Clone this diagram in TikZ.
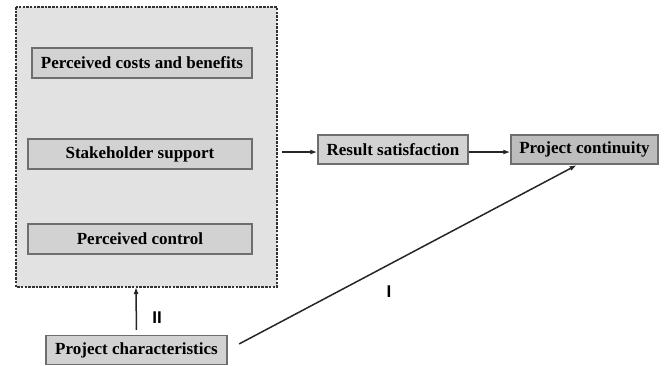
\documentclass[tikz,border=0pt]{standalone}
\usepackage{fontspec}
\setmainfont{Liberation Serif}
\newfontfamily\labelfont{Liberation Sans}
\usepackage{xcolor}
\usepackage{tikz}
\usetikzlibrary{arrows.meta,calc}

\definecolor{grpfill}{HTML}{E2E2E2}
\definecolor{boxfill}{HTML}{D2D2D2}
\definecolor{boxdraw}{HTML}{6E6E6E}

\begin{document}
\begin{tikzpicture}[x=1pt,y=-1pt,
		kasten/.style={draw=boxdraw,fill=boxfill,line width=1.4pt,inner sep=0pt,
			minimum height=30pt,font=\fontsize{17}{19}\selectfont\bfseries},
		pfeil/.style={-{Latex[length=7pt,width=5pt]},line width=1.5pt,black!85}]
		\useasboundingbox (0,0) rectangle (664,365);

		% Gruppe
		\draw[black!80,dash pattern=on 2.5pt off 1.2pt,line width=1.3pt,fill=grpfill]
			(16,7) rectangle (277,287);
		\coordinate (grpeast) at (282,152);
		\coordinate (grpsouth) at (136,287);

		% Kaesten
		\node[kasten,minimum width=220pt] (costs) at (142,63) {Perceived costs and benefits};
		\node[kasten,minimum width=224pt] (support) at (140,154) {Stakeholder support};
		\node[kasten,minimum width=224pt] (control) at (140,239) {Perceived control};
		\node[kasten,minimum width=181pt,minimum height=29pt] (chars) at (136.5,350) {Project characteristics};
		\node[kasten,minimum width=150pt,minimum height=29pt] (result) at (393,149.5) {Result satisfaction};
		\node[kasten,minimum width=147pt,minimum height=29pt,fill=boxfill!90!black] (cont) at (584.5,149.5) {Project continuity};

		% Pfeile
		\draw[pfeil] (grpeast) -- (grpeast -| result.west);
		\draw[pfeil] (result.east |- grpeast) -- (cont.west |- grpeast);
		\draw[pfeil,shorten <=5pt] (chars.north) -- (grpsouth);
		\draw[pfeil,shorten <=13pt,shorten >=1pt] (chars.east) -- ($(cont.south)+(-7,0)$);

		% Beschriftung
		\node[font=\labelfont\bfseries\fontsize{17}{19}\selectfont] (two) at (157,318) {II};
		\node[font=\labelfont\bfseries\fontsize{17}{19}\selectfont] (one) at (389,292) {I};
	\end{tikzpicture}
\end{document}
